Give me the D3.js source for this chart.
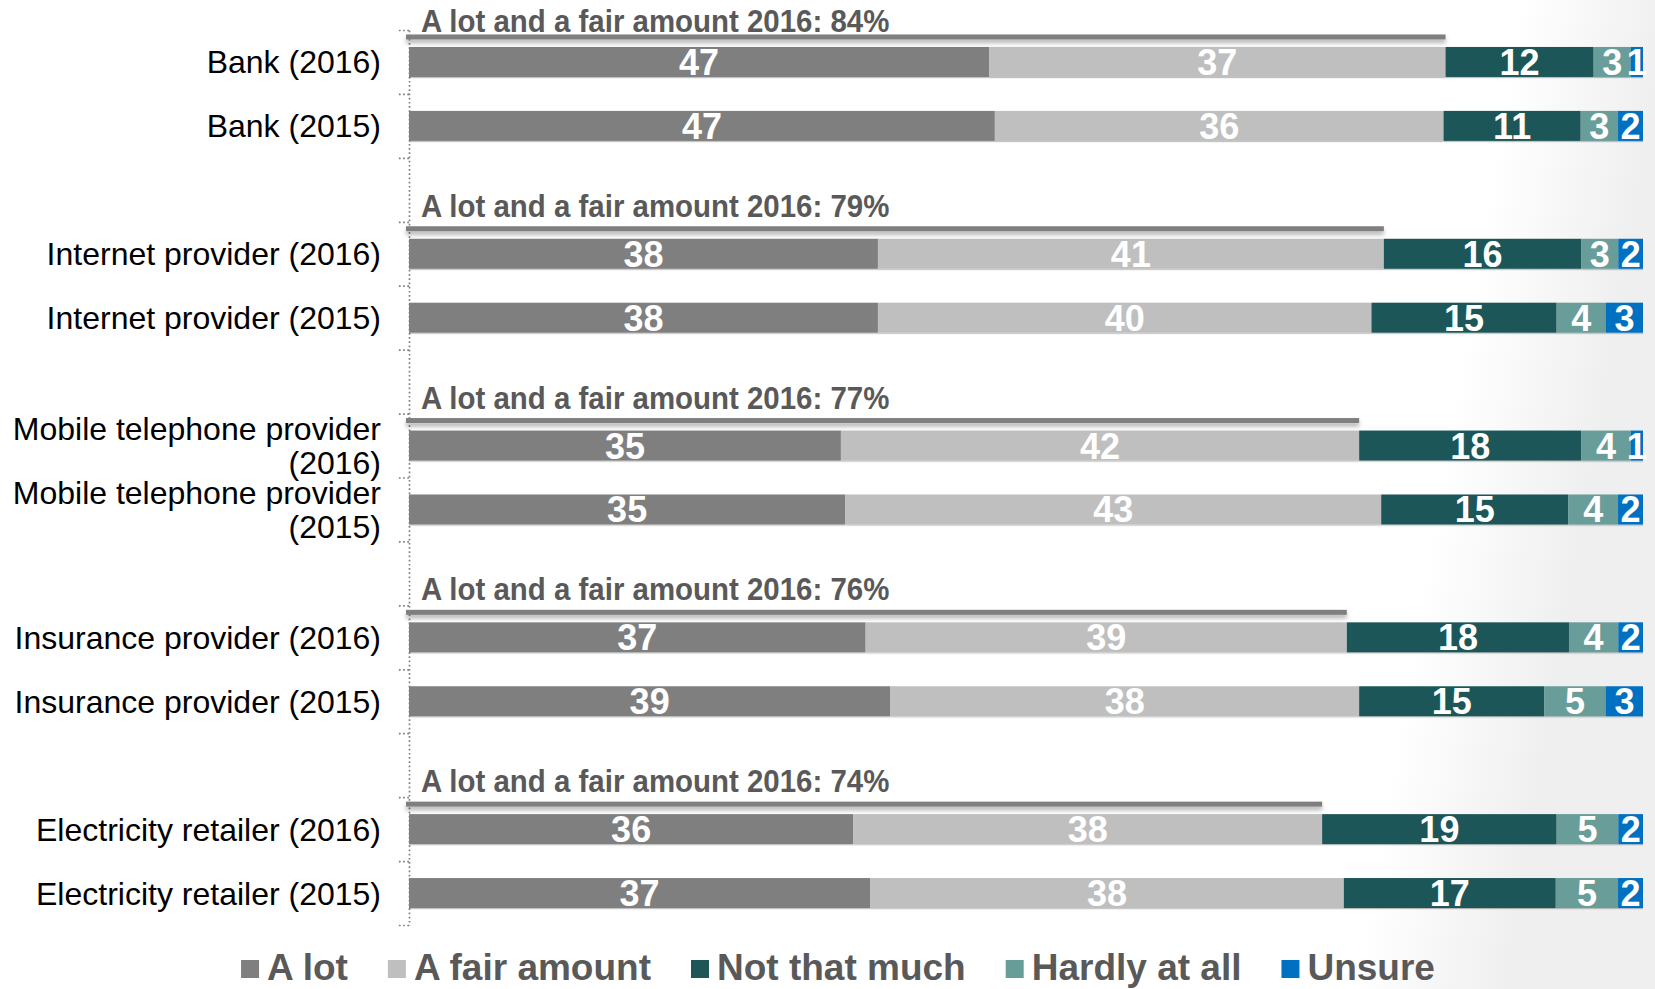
<!DOCTYPE html>
<html>
<head>
<meta charset="utf-8">
<script src="https://cdn.jsdelivr.net/npm/d3@7"></script>
<style>
  html, body { margin: 0; padding: 0; background: #fff; }
  svg { display: block; }
</style>
</head>
<body>
<svg id="chart" width="1655" height="989"></svg>
<script>
// ---- data -------------------------------------------------------------
const categories = [
  "Bank (2016)", "Bank (2015)",
  "Internet provider (2016)", "Internet provider (2015)",
  "Mobile telephone provider (2016)", "Mobile telephone provider (2015)",
  "Insurance provider (2016)", "Insurance provider (2015)",
  "Electricity retailer (2016)", "Electricity retailer (2015)"
];
const seriesNames = ["A lot", "A fair amount", "Not that much", "Hardly at all", "Unsure"];
const aLot        = [47, 47, 38, 38, 35, 35, 37, 39, 36, 37];
const fairAmount  = [37, 36, 41, 40, 42, 43, 39, 38, 38, 38];
const notThatMuch = [12, 11, 16, 15, 18, 15, 18, 15, 19, 17];
const hardlyAtAll = [ 3,  3,  3,  4,  4,  4,  4,  5,  5,  5];
const unsure      = [ 1,  2,  2,  3,  1,  2,  2,  3,  2,  2];
const totals2016  = [84, 79, 77, 76, 74];

const seriesColors = ["#7f7f7f", "#bfbfbf", "#1e5658", "#679d99", "#0070c0"];

// ---- setup ------------------------------------------------------------
const W = 1655, H = 989;
const svg = d3.select("#chart");
const defs = svg.append("defs");

const bgGrad = defs.append("linearGradient").attr("id", "bgGrad")
  .attr("x1", "0").attr("y1", "0").attr("x2", "1").attr("y2", "0.1");
bgGrad.append("stop").attr("offset", "0.91").attr("stop-color", "#ffffff");
bgGrad.append("stop").attr("offset", "1").attr("stop-color", "#efefef");
svg.append("rect").attr("width", W).attr("height", H).attr("fill", "url(#bgGrad)");

const barShadow = defs.append("filter").attr("id", "barShadow")
  .attr("filterUnits", "userSpaceOnUse").attr("x", 0).attr("y", 0).attr("width", W).attr("height", H);
barShadow.append("feDropShadow").attr("dx", 0).attr("dy", 1.2).attr("stdDeviation", 0.7)
  .attr("flood-color", "#000").attr("flood-opacity", 0.25);

const lineShadow = defs.append("filter").attr("id", "lineShadow")
  .attr("filterUnits", "userSpaceOnUse").attr("x", 0).attr("y", 0).attr("width", W).attr("height", H);
lineShadow.append("feDropShadow").attr("dx", 0).attr("dy", 3.5).attr("stdDeviation", 2.2)
  .attr("flood-color", "#000").attr("flood-opacity", 0.3);

const SANS = "'Liberation Sans', Arial, Helvetica, sans-serif";

function boldText(parent, txt, tx, ty, size, anchor, fill, squeeze = 1) {
  return parent.append("text")
    .attr("transform", `translate(${tx},${ty}) scale(${squeeze},1)`)
    .attr("text-anchor", anchor)
    .attr("font-family", SANS)
    .attr("font-weight", "bold")
    .attr("font-size", size)
    .attr("fill", fill)
    .text(txt);
}

// ---- scales -----------------------------------------------------------
const x0 = 409, x1 = 1643, yTop = 30, yBottom = 925;
const x = d3.scaleLinear().domain([0, 1]).range([x0, x1]);

// two rows per provider, one empty slot between providers
const slotOf = i => Math.floor(i / 2) * 3 + (i % 2);
const nSlots = slotOf(categories.length - 1) + 1;
const y = d3.scaleBand().domain(d3.range(nSlots)).range([yTop, yBottom])
  .paddingInner(0.531).paddingOuter(0.2655);
const yEdge = d3.scaleLinear().domain([0, nSlots]).range([yTop, yBottom]);

const rows = categories.map((c, i) => ({
  cat: c, slot: slotOf(i),
  "A lot": aLot[i], "A fair amount": fairAmount[i], "Not that much": notThatMuch[i],
  "Hardly at all": hardlyAtAll[i], "Unsure": unsure[i]
}));
const layers = d3.stack().keys(seriesNames).offset(d3.stackOffsetExpand)(rows);

// ---- axis (dotted, ticks between rows) --------------------------------
const axisG = svg.append("g").attr("transform", `translate(${x0},0)`)
  .call(d3.axisLeft(yEdge).tickValues(d3.range(nSlots + 1)).tickSize(11).tickSizeOuter(0).tickFormat(""));
axisG.select(".domain").attr("stroke", "#808080").attr("stroke-width", 1.7).attr("stroke-dasharray", "1.7,2.5");
axisG.selectAll(".tick line").attr("stroke", "#808080").attr("stroke-width", 1.7).attr("stroke-dasharray", "1.7,2.5");

// ---- bars -------------------------------------------------------------
const barsG = svg.append("g").attr("filter", "url(#barShadow)");
barsG.selectAll("g.series").data(layers).join("g")
  .attr("class", "series")
  .attr("fill", (d, i) => seriesColors[i])
  .selectAll("rect").data(d => d).join("rect")
    .attr("x", d => x(d[0]))
    .attr("y", d => y(d.data.slot))
    .attr("width", d => x(d[1]) - x(d[0]))
    .attr("height", y.bandwidth());

// value labels
const valG = svg.append("g");
layers.forEach(layer => {
  layer.forEach(d => {
    const cx = (x(d[0]) + x(d[1])) / 2;
    const cy = y(d.data.slot) + y.bandwidth() / 2;
    boldText(valG, d.data[layer.key], cx, cy + 13, 36, "middle", "#ffffff");
  });
});

// ---- "A lot and a fair amount" brackets over each 2016 row -------------
const totG = svg.append("g");
totals2016.forEach((t, g) => {
  const slot = slotOf(g * 2);
  const ly = y(slot) - 10;
  totG.append("rect")
    .attr("x", x0 - 3).attr("width", x(t / 100) - (x0 - 3))
    .attr("y", ly - 2.5).attr("height", 5)
    .attr("fill", "#7f7f7f")
    .attr("filter", "url(#lineShadow)");
  // keep the first caption clear of the top edge
  const baseY = Math.max(yEdge(slot) - 5, 32);
  boldText(totG, `A lot and a fair amount 2016: ${t}%`, 421, baseY, 31, "start", "#595959", 0.95);
});

// ---- category labels --------------------------------------------------
const labG = svg.append("g")
  .attr("font-family", SANS).attr("font-size", 32).attr("fill", "#000").attr("text-anchor", "end");
const maxLabelW = 375, lineH = 34.5;
rows.forEach(r => {
  const t = labG.append("text").attr("x", 381);
  const words = r.cat.split(" ");
  const lines = [];
  let cur = [];
  const probe = labG.append("text");
  words.forEach(w => {
    const test = cur.concat([w]).join(" ");
    probe.text(test);
    if (cur.length && probe.node().getComputedTextLength() > maxLabelW) {
      lines.push(cur.join(" "));
      cur = [w];
    } else cur.push(w);
  });
  lines.push(cur.join(" "));
  probe.remove();
  const cy = y(r.slot) + y.bandwidth() / 2;
  const first = cy - (lines.length - 1) * lineH / 2;
  lines.forEach((ln, k) => {
    t.append("tspan").attr("x", 381).attr("y", first + k * lineH + 11.5).text(ln);
  });
});

// ---- legend -----------------------------------------------------------
const legG = svg.append("g");
const legSize = 37, sq = 18, sqGap = 8, itemGap = 40;
const items = seriesNames.map((name, i) => {
  const g = legG.append("g");
  g.append("rect").attr("width", sq).attr("height", sq).attr("y", -20).attr("fill", seriesColors[i]);
  const tx = boldText(g, name, sq + sqGap, 0, legSize, "start", "#595959");
  const w = sq + sqGap + tx.node().getComputedTextLength();
  return { g, w };
});
const totalW = d3.sum(items, d => d.w) + itemGap * (items.length - 1);
let lx = 838 - totalW / 2;
items.forEach(it => {
  it.g.attr("transform", `translate(${lx},980)`);
  lx += it.w + itemGap;
});
</script>
</body>
</html>
